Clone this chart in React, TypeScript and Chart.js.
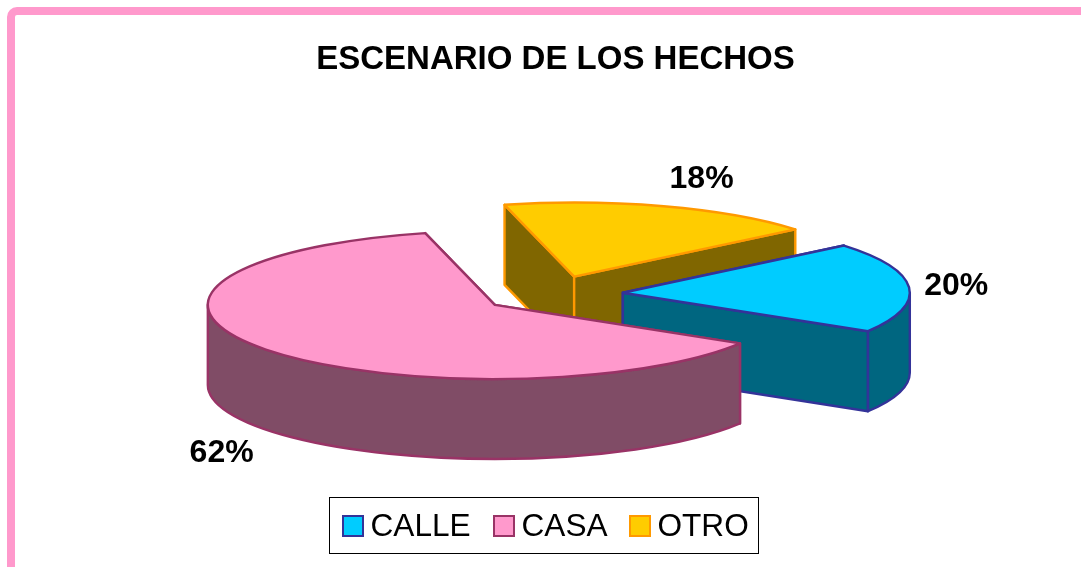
import React, { useEffect, useRef } from "react";
import { Chart, registerables } from "chart.js";

Chart.register(...registerables);

const titleText = "ESCENARIO DE LOS HECHOS";
const categories = ["CALLE", "CASA", "OTRO"];
const seriesValues = [19.7, 62.4, 17.9];
const percentLabels = ["20%", "62%", "18%"];
const topColors = ["#00CCFF", "#FF99CC", "#FFCC00"];
const sideColors = ["#006680", "#804C66", "#806600"];
const edgeColors = ["#333399", "#993366", "#FF9900"];

const FONT = '"Liberation Sans", Arial, sans-serif';
const SQUASH = 0.258;
const DEPTH = 80;
const PAINT_ORDER = [2, 0, 1];
// radial factor and extra drop of each percentage label, relative to its slice
const LABEL_RADIAL = [1.165, 1.182, 1.423];
const LABEL_DROP = [-0.5, 96, 2.4];

const pie3d = {
  id: "pie3d",
  beforeDraw(chart: any) {
    const { ctx, width, height } = chart;
    ctx.save();
    ctx.fillStyle = "#fff";
    ctx.fillRect(0, 0, width, height);
    ctx.strokeStyle = "#FF99CC";
    ctx.lineWidth = 8;
    ctx.beginPath();
    ctx.roundRect(11, 11, width + 40, height + 40, 6);
    ctx.stroke();
    ctx.restore();
  },
  afterLayout(chart: any) {
    // the title sits slightly right of the pie's centre
    chart.titleBlock.left += 7;
  },
  beforeDatasetsDraw(chart: any) {
    const { ctx } = chart;
    const arcs = chart.getDatasetMeta(0).data;
    ctx.save();
    ctx.lineJoin = "round";
    PAINT_ORDER.forEach((i) => {
      const el = arcs[i];
      const { startAngle: a0, endAngle: a1, outerRadius: r, options } = el;
      const mid = (a0 + a1) / 2;
      const x = el.x + Math.cos(mid) * options.offset;
      const y = el.y + Math.sin(mid) * options.offset * SQUASH;
      const ry = r * SQUASH;
      const px = (a: number) => x + Math.cos(a) * r;
      const py = (a: number) => y + Math.sin(a) * ry;
      ctx.lineWidth = 2.4;
      ctx.strokeStyle = edgeColors[i];

      // cut faces
      ctx.fillStyle = sideColors[i];
      [a0, a1].forEach((a) => {
        ctx.beginPath();
        ctx.moveTo(x, y);
        ctx.lineTo(px(a), py(a));
        ctx.lineTo(px(a), py(a) + DEPTH);
        ctx.lineTo(x, y + DEPTH);
        ctx.closePath();
        ctx.fill();
        ctx.stroke();
      });

      // outer wall: only the part of the rim on the viewer's side
      const norm = Math.PI * 2;
      let w0 = a0;
      let w1 = a1;
      while (w0 < -Math.PI / 2) { w0 += norm; w1 += norm; }
      const ws = Math.max(w0, 0);
      const we = Math.min(w1, Math.PI);
      if (we > ws) {
        ctx.beginPath();
        ctx.ellipse(x, y, r, ry, 0, ws, we);
        ctx.ellipse(x, y + DEPTH, r, ry, 0, we, ws, true);
        ctx.closePath();
        ctx.fill();
        ctx.stroke();
      }

      // top
      ctx.fillStyle = topColors[i];
      ctx.beginPath();
      ctx.moveTo(x, y);
      ctx.ellipse(x, y, r, ry, 0, a0, a1);
      ctx.closePath();
      ctx.fill();
      ctx.stroke();
    });

    // percentage labels
    ctx.fillStyle = "#000";
    ctx.font = `bold 32px ${FONT}`;
    ctx.textAlign = "center";
    ctx.textBaseline = "middle";
    arcs.forEach((el: any, i: number) => {
      const mid = (el.startAngle + el.endAngle) / 2;
      const off = el.options.offset;
      const k = el.outerRadius * LABEL_RADIAL[i];
      const lx = el.x + Math.cos(mid) * (off + k);
      const ly = el.y + Math.sin(mid) * (off + k) * SQUASH + LABEL_DROP[i];
      ctx.fillText(percentLabels[i], lx, ly);
    });
    ctx.restore();
    return false;
  },
  afterDraw(chart: any) {
    const { ctx } = chart;
    ctx.save();
    // legend box
    ctx.fillStyle = "#fff";
    ctx.strokeStyle = "#000";
    ctx.lineWidth = 1;
    ctx.fillRect(329.5, 497.5, 429, 56);
    ctx.strokeRect(329.5, 497.5, 429, 56);
    ctx.font = `31.6px ${FONT}`;
    ctx.textBaseline = "middle";
    ctx.textAlign = "left";
    const swatchX = [343, 494, 630];
    categories.forEach((c, i) => {
      ctx.fillStyle = topColors[i];
      ctx.strokeStyle = edgeColors[i];
      ctx.lineWidth = 2;
      ctx.fillRect(swatchX[i], 516, 20, 20);
      ctx.strokeRect(swatchX[i], 516, 20, 20);
      ctx.fillStyle = "#000";
      ctx.fillText(c, swatchX[i] + 27.5, 527);
    });
    ctx.restore();
  },
};

export default function App() {
  const ref = useRef<HTMLCanvasElement>(null);
  useEffect(() => {
    document.body.style.margin = "0";
    const chart = new Chart(ref.current as HTMLCanvasElement, {
      type: "pie",
      data: {
        labels: categories,
        datasets: [
          {
            data: seriesValues,
            backgroundColor: topColors,
            borderColor: edgeColors,
            borderWidth: 2,
            offset: 71,
            hoverOffset: 0,
          } as any,
        ],
      },
      options: {
        responsive: false,
        animation: false,
        events: [],
        rotation: 50.4,
        radius: 287,
        layout: { padding: { left: 23, right: 0, top: 0, bottom: 59 } },
        plugins: {
          legend: { display: false },
          tooltip: { enabled: false },
          title: {
            display: true,
            text: titleText,
            color: "#000",
            font: { family: FONT, size: 33, weight: "bold", lineHeight: 1.2 },
            padding: { top: 40.5, bottom: 0 },
          },
        },
      } as any,
      plugins: [pie3d as any],
    });
    return () => chart.destroy();
  }, []);
  return <canvas ref={ref} width={1081} height={567} style={{ display: "block" }} />;
}
